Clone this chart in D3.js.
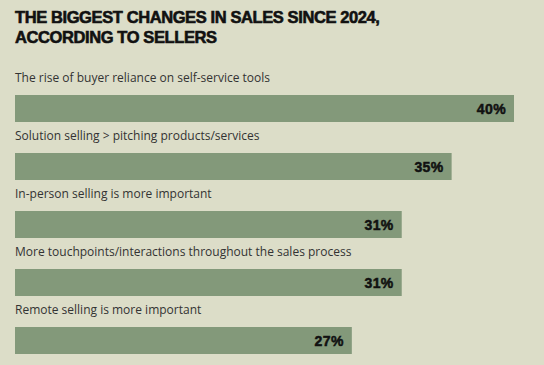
<!DOCTYPE html>
<html><head><meta charset="utf-8">
<script src="https://cdn.jsdelivr.net/npm/d3@7"></script>
<style>html,body{margin:0;padding:0;background:#dcddc8;}</style>
</head><body>
<svg id="chart" width="544" height="365"></svg>
<script>
const titleLines = ["THE BIGGEST CHANGES IN SALES SINCE 2024,", "ACCORDING TO SELLERS"];
const categories = [
  "The rise of buyer reliance on self-service tools",
  "Solution selling > pitching products/services",
  "In-person selling is more important",
  "More touchpoints/interactions throughout the sales process",
  "Remote selling is more important"
];
const values = [40, 35, 31, 31, 27];

const svg = d3.select("#chart");
svg.append("rect").attr("width",544).attr("height",365).attr("fill","#dcddc8");

svg.selectAll("text.title").data(titleLines).join("text")
  .attr("class","title")
  .attr("x",15).attr("y",(d,i)=>23+i*20)
  .attr("font-family","'Liberation Sans', Arial, sans-serif")
  .attr("font-weight",900).attr("font-size",16.5)
  .attr("letter-spacing",-0.4)
  .attr("stroke","#111").attr("stroke-width",0.6)
  .attr("fill","#111").text(d=>d);

const x = d3.scaleLinear().domain([0,40]).range([15,514]);
const y = d3.scaleBand().domain(categories).range([95,385]).paddingInner(0).paddingOuter(0);
const barH = 27;

const g = svg.append("g");
const rows = g.selectAll("g.row").data(categories).join("g").attr("class","row")
  .attr("transform",d=>`translate(0,${y(d)})`);

rows.append("text")
  .attr("x",15).attr("y",-13)
  .attr("font-family","'Open Sans', sans-serif")
  .attr("font-size",12).attr("fill","#333")
  .text(d=>d);

rows.append("rect")
  .attr("x",x(0)).attr("y",0)
  .attr("width",(d,i)=>x(values[i])-x(0)).attr("height",barH)
  .attr("fill","#83997a");

rows.append("text")
  .attr("x",(d,i)=>x(values[i])-8).attr("y",barH/2+5)
  .attr("text-anchor","end")
  .attr("font-family","'Liberation Sans', Arial, sans-serif")
  .attr("font-weight",900).attr("font-size",14)
  .attr("letter-spacing",0.4)
  .attr("stroke","#111").attr("stroke-width",0.5)
  .attr("fill","#111")
  .text((d,i)=>values[i]+"%");
</script>
</body></html>
